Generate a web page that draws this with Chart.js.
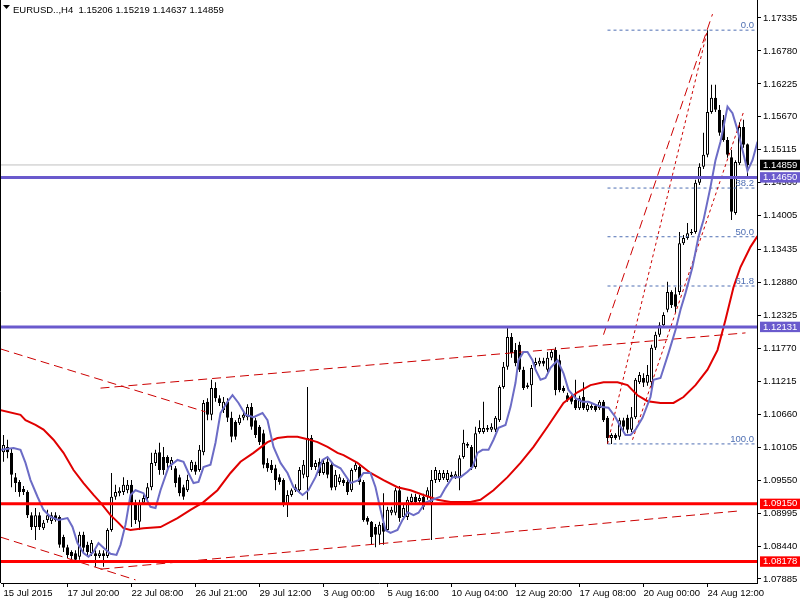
<!DOCTYPE html>
<html><head><meta charset="utf-8">
<script src="https://cdn.jsdelivr.net/npm/chart.js@4.4.1/dist/chart.umd.min.js"></script>
<style>html,body{margin:0;padding:0;background:#fff;}</style>
</head><body>
<canvas id="c" width="800" height="600"></canvas>
<script>
const titleText = 'EURUSD..,H4  1.15206 1.15219 1.14637 1.14859';
const dateLabels = ['15 Jul 2015','17 Jul 20:00','22 Jul 08:00','26 Jul 21:00','29 Jul 12:00','3 Aug 00:00','5 Aug 16:00','10 Aug 04:00','12 Aug 20:00','17 Aug 08:00','20 Aug 00:00','24 Aug 12:00'];
const barsPerLabel = 16;

const open = [1.1002,1.1011,1.1001,1.0960,1.0952,1.0940,1.0935,1.0896,1.0876,1.0896,1.0874,1.0888,1.0886,1.0896,1.0893,1.0859,1.0842,1.0834,1.0832,1.0826,
1.0863,1.0846,1.0832,1.0832,1.0827,1.0832,1.0827,1.0871,1.0927,1.0933,1.0935,1.0938,1.0947,1.0917,1.0885,1.0917,1.0925,1.0943,1.0984,1.1002,
1.0994,1.0994,1.0981,1.0975,1.0960,1.0943,1.0938,1.0972,1.0981,1.0972,1.1002,1.1087,1.1065,1.1110,1.1093,1.1073,1.1087,1.1060,1.1053,1.1051,
1.1060,1.1061,1.1078,1.1056,1.1045,1.1034,1.0984,1.0981,1.0975,1.0960,1.0955,1.0913,1.0930,1.0938,1.0938,1.0964,1.0960,1.1026,1.0977,1.0986,
1.0967,1.0986,1.0981,1.0943,1.0952,1.0955,1.0952,1.0938,1.0972,1.0977,1.0952,1.0891,1.0885,1.0876,1.0863,1.0883,1.0871,1.0900,1.0900,1.0938,
1.0893,1.0893,1.0918,1.0927,1.0920,1.0927,1.0927,1.0917,1.0955,1.0955,1.0958,1.0955,1.0964,1.0960,1.0960,1.0994,1.1016,1.1011,1.0977,1.1036,
1.1036,1.1043,1.1040,1.1040,1.1056,1.1112,1.1146,1.1196,1.1174,1.1183,1.1141,1.1112,1.1115,1.1149,1.1151,1.1156,1.1141,1.1161,1.1174,1.1157,
1.1110,1.1098,1.1095,1.1090,1.1076,1.1095,1.1073,1.1076,1.1080,1.1076,1.1087,1.1060,1.1026,1.1031,1.1028,1.1056,1.1060,1.1040,1.1061,1.1120,
1.1127,1.1119,1.1120,1.1178,1.1200,1.1216,1.1242,1.1272,1.1268,1.1272,1.1354,1.1363,1.1371,1.1373,1.1456,1.1483,1.1503,1.1575,1.1599,1.1579,
1.1562,1.1528,1.1499,1.1405,1.1489,1.1550,1.15206];
const high = [1.1031,1.1023,1.1009,1.0967,1.0955,1.0945,1.0938,1.0901,1.0908,1.0901,1.0888,1.0905,1.0901,1.0901,1.0896,1.0863,1.0846,1.0837,1.0837,1.0868,
1.0868,1.0851,1.0854,1.0837,1.0837,1.0837,1.0874,1.0967,1.0947,1.0943,1.0960,1.0955,1.0955,1.0922,1.0922,1.0930,1.0950,1.1001,1.1006,1.1018,
1.1011,1.0997,1.0994,1.0979,1.0964,1.0947,1.0964,1.0989,1.0986,1.1014,1.1090,1.1093,1.1124,1.1120,1.1098,1.1095,1.1093,1.1070,1.1056,1.1065,
1.1070,1.1083,1.1085,1.1060,1.1048,1.1040,1.0992,1.0989,1.0981,1.0965,1.0958,1.0938,1.0941,1.0948,1.0977,1.0989,1.1112,1.1031,1.0989,1.0992,
1.0989,1.0992,1.0984,1.0972,1.0965,1.0958,1.0955,1.0975,1.0986,1.0981,1.0955,1.0894,1.0886,1.0881,1.0885,1.0933,1.0910,1.0910,1.0942,1.0945,
1.0913,1.0927,1.0932,1.0932,1.0930,1.0932,1.0943,1.0972,1.0977,1.0972,1.0972,1.0972,1.0969,1.0970,1.0997,1.1040,1.1019,1.1014,1.1045,1.1056,
1.1087,1.1048,1.1051,1.1063,1.1115,1.1154,1.1213,1.1203,1.1186,1.1188,1.1146,1.1119,1.1149,1.1161,1.1161,1.1161,1.1171,1.1176,1.1179,1.1166,
1.1114,1.1102,1.1098,1.1124,1.1097,1.1120,1.1085,1.1083,1.1083,1.1090,1.1090,1.1063,1.1034,1.1034,1.1060,1.1060,1.1065,1.1078,1.1127,1.1137,
1.1135,1.1149,1.1183,1.1205,1.1221,1.1238,1.1289,1.1275,1.1280,1.1373,1.1368,1.1388,1.1378,1.1461,1.1489,1.1540,1.1713,1.1621,1.1621,1.1587,
1.1570,1.1533,1.1511,1.1494,1.1558,1.1562,1.15219];
const low = [1.0986,1.0992,1.0943,1.0935,1.0927,1.0930,1.0891,1.0871,1.0854,1.0871,1.0871,1.0883,1.0881,1.0885,1.0841,1.0834,1.0824,1.0822,1.0817,1.0821,
1.0834,1.0827,1.0827,1.0809,1.0824,1.0809,1.0824,1.0868,1.0922,1.0928,1.0930,1.0933,1.0876,1.0881,1.0871,1.0913,1.0922,1.0938,1.0979,1.0964,
1.0964,1.0975,1.0972,1.0943,1.0928,1.0922,1.0935,1.0969,1.0964,1.0969,1.0997,1.1056,1.1056,1.1087,1.1080,1.1068,1.1053,1.1019,1.1023,1.1048,
1.1056,1.1056,1.1040,1.1026,1.1014,1.0975,1.0969,1.0967,1.0938,1.0947,1.0910,1.0893,1.0927,1.0935,1.0933,1.0958,1.0922,1.0972,1.0972,1.0962,
1.0964,1.0958,1.0938,1.0938,1.0947,1.0945,1.0930,1.0935,1.0969,1.0947,1.0885,1.0880,1.0846,1.0842,1.0846,1.0846,1.0868,1.0896,1.0896,1.0885,
1.0888,1.0888,1.0913,1.0913,1.0916,1.0905,1.0922,1.0854,1.0950,1.0952,1.0955,1.0952,1.0955,1.0957,1.0938,1.0991,1.1009,1.0972,1.0974,1.1033,
1.1033,1.1036,1.1036,1.1036,1.1053,1.1109,1.1141,1.1161,1.1147,1.1137,1.1107,1.1109,1.1078,1.1144,1.1147,1.1147,1.1137,1.1157,1.1098,1.1103,
1.1102,1.1087,1.1083,1.1073,1.1073,1.1073,1.1070,1.1073,1.1070,1.1073,1.1053,1.1016,1.1016,1.1023,1.1023,1.1036,1.1034,1.1036,1.1058,1.1117,
1.1112,1.1114,1.1107,1.1174,1.1196,1.1213,1.1238,1.1245,1.1237,1.1267,1.1351,1.1360,1.1368,1.1370,1.1452,1.1479,1.1499,1.1572,1.1575,1.1535,
1.1525,1.1498,1.1393,1.1402,1.1486,1.1515,1.14637];
const close = [1.1014,1.1002,1.0964,1.0950,1.0935,1.0935,1.0896,1.0876,1.0896,1.0876,1.0883,1.0896,1.0896,1.0888,1.0846,1.0841,1.0829,1.0827,1.0821,1.0863,
1.0841,1.0834,1.0849,1.0827,1.0832,1.0827,1.0871,1.0927,1.0935,1.0937,1.0947,1.0947,1.0917,1.0888,1.0917,1.0925,1.0943,1.0984,1.1001,1.0972,
1.0972,1.0984,1.0989,1.0950,1.0933,1.0927,1.0955,1.0986,1.0969,1.1006,1.1085,1.1065,1.1110,1.1093,1.1085,1.1087,1.1060,1.1028,1.1028,1.1060,
1.1065,1.1078,1.1045,1.1031,1.1019,1.0981,1.0975,1.0972,1.0955,1.0952,1.0913,1.0930,1.0938,1.0943,1.0972,1.0981,1.1026,1.0977,1.0984,1.0967,
1.0984,1.0964,1.0942,1.0964,1.0960,1.0950,1.0935,1.0972,1.0981,1.0952,1.0888,1.0885,1.0859,1.0863,1.0880,1.0868,1.0905,1.0905,1.0938,1.0891,
1.0908,1.0922,1.0927,1.0918,1.0925,1.0910,1.0938,1.0955,1.0972,1.0967,1.0967,1.0967,1.0960,1.0965,1.0992,1.1018,1.1013,1.0977,1.1034,1.1043,
1.1043,1.1040,1.1045,1.1060,1.1112,1.1146,1.1196,1.1169,1.1152,1.1141,1.1110,1.1115,1.1144,1.1154,1.1156,1.1151,1.1161,1.1171,1.1107,1.1107,
1.1105,1.1090,1.1087,1.1076,1.1093,1.1076,1.1082,1.1080,1.1073,1.1087,1.1056,1.1026,1.1031,1.1026,1.1056,1.1045,1.1040,1.1061,1.1124,1.1132,
1.1119,1.1132,1.1178,1.1200,1.1216,1.1233,1.1272,1.1250,1.1247,1.1354,1.1363,1.1371,1.1373,1.1456,1.1483,1.1503,1.1575,1.1599,1.1579,1.1540,
1.1528,1.1503,1.1407,1.1491,1.1550,1.1520,1.14859];

// moving averages (bar position, price)
const maFastX = [-0.75,2.5,4.25,5.5,6.75,8.5,10,11.75,13.75,16,17.25,18.5,20,21.25,22.5,23.75,25,26.75,28.25,29.25,30.5,31.75,33,35,36.75,38,39.25,41.25,43.5,45,46.25,47.5,48.75,50,51.75,53,54.25,56,57.25,58.75,60.5,62.5,64.75,66,67.5,69.25,71,72.5,74.75,76.25,78,79.75,81,82.5,84.25,86.75,88.75,90,91.75,93,94.25,95.5,96.75,98.5,99.75,101,102.5,103.75,105.5,107.25,109.25,110.5,112.25,114.25,116,117.25,118.5,119.75,121.25,122.5,123.75,125.5,126.75,128,128.75,130,131,132.25,133,134.25,135.5,136.75,138.5,140,141.25,143,144.75,146.25,148,149.75,151.25,153,154.25,155.5,156.75,158,159.75,161.75,162.5,164.25,166.25,168,169.25,170.5,172.25,173.75,175,176.75,178,179.25,180.5,181,182.25,183.5,184.75,186,187.25,188.5];
const maFastY = [1.1006,1.1009,1.1006,1.0984,1.0955,1.0927,1.0905,1.0893,1.0888,1.0891,1.0876,1.0849,1.0832,1.0826,1.0834,1.0849,1.0841,1.0831,1.0829,1.0846,1.0880,1.0930,1.0938,1.0933,1.0910,1.0908,1.0938,1.0977,1.0989,1.0986,1.0967,1.0950,1.0952,1.0977,1.0981,1.1018,1.1068,1.1087,1.1098,1.1085,1.1065,1.1061,1.1068,1.1056,1.1011,1.0984,1.0967,1.0943,1.0930,1.0938,1.0960,1.0989,1.0994,1.0981,1.0975,1.0950,1.0955,1.0967,1.0967,1.0943,1.0905,1.0871,1.0866,1.0871,1.0888,1.0901,1.0896,1.0900,1.0917,1.0922,1.0927,1.0942,1.0960,1.0960,1.0969,1.0977,1.1001,1.1006,1.1006,1.1023,1.1043,1.1048,1.1078,1.1119,1.1157,1.1171,1.1171,1.1157,1.1141,1.1124,1.1127,1.1144,1.1157,1.1135,1.1107,1.1093,1.1087,1.1087,1.1082,1.1078,1.1077,1.1061,1.1045,1.1031,1.1031,1.1040,1.1060,1.1095,1.1124,1.1127,1.1169,1.1208,1.1242,1.1270,1.1314,1.1365,1.1393,1.1449,1.1494,1.1525,1.1567,1.1584,1.1573,1.1545,1.1511,1.1476,1.1494,1.1525];
const maSlowX = [-0.75,4.25,5.5,8,10,12.5,15,17.5,20,22.5,24.25,26.75,28.75,30,31.75,35,39.25,43.5,46.75,50,53.5,56.75,59.25,62.5,66,68.5,71,73.5,76,78.5,81,83.5,85,88.5,91.75,95,98.5,101.75,105,108.5,111.75,116.75,119.25,122.5,126,129.25,132.5,136,140,143.5,146.75,150,153.5,156,158.5,161,164.25,167.5,170,173,176,178.5,180.5,182.5,184.25,186.75,188.5];
const maSlowY = [1.1073,1.1065,1.1056,1.1048,1.1040,1.1023,1.1001,1.0972,1.0950,1.0930,1.0917,1.0896,1.0883,1.0874,1.0871,1.0874,1.0876,1.0891,1.0905,1.0918,1.0938,1.0967,1.0986,1.1001,1.1019,1.1026,1.1028,1.1028,1.1024,1.1019,1.1011,1.1001,1.0997,1.0984,1.0967,1.0955,1.0943,1.0938,1.0930,1.0922,1.0918,1.0918,1.0922,1.0938,1.0960,1.0984,1.1011,1.1045,1.1085,1.1103,1.1115,1.1120,1.1120,1.1115,1.1098,1.1088,1.1085,1.1085,1.1095,1.1115,1.1141,1.1174,1.1225,1.1280,1.1314,1.1348,1.1366];

// horizontal levels
const currentPrice = 1.14859;
const blueLevels = [1.14650, 1.12131];
const redLevels = [1.09150, 1.08178];
const axisTicks = [1.17335,1.16780,1.16225,1.15670,1.15115,1.14560,1.14005,1.13435,1.12880,1.12325,1.11770,1.11215,1.10660,1.10105,1.09550,1.08995,1.08440,1.07885];

// trend lines: [bar, price] pairs
const trendDown = [[-0.75,1.1176],[50.5,1.1070]];
const channelTop = [[24.25,1.1110],[185.5,1.1203]];
const channelBottom = [[24.25,1.0805],[183.75,1.0903]];
const trendLow = [[-0.75,1.0859],[33,1.0787]];
const rallyDash = [[150,1.1200],[177.25,1.1740]];
const fiboDiag = [[151,1.1016],[176,1.1713]];
const rallyDot = [[157.25,1.1023],[185,1.1575]];

// Fibonacci retracement levels
const fibLabels = ['0.0','38.2','50.0','61.8','100.0'];
const fibPrices = [1.1713,1.1447,1.1365,1.1282,1.1016];
const fibStart = 151;

const X_MIN = -0.625, X_MAX = 188.375;
const Y_MIN = 1.07817, Y_MAX = 1.17638;
const FONT = '"Liberation Sans", Arial, sans-serif';
const FS = 9.5;
const SLATE = '#6a5acd';
const FIB_COLOR = '#4f6fb3';
const markerVals = [currentPrice, ...blueLevels, ...redLevels];
const markerBg = v => v === currentPrice ? '#000000' : (blueLevels.includes(v) ? SLATE : (redLevels.includes(v) ? '#ff0000' : null));

const idx = open.map((_, i) => i);
const wicks = idx.map(i => ({x: i, y: [low[i], high[i]]}));
const upBodies = idx.filter(i => close[i] >= open[i]).map(i => ({x: i, y: [open[i], close[i]]}));
const downBodies = idx.filter(i => close[i] < open[i]).map(i => ({x: i, y: [close[i], open[i]]}));

function lineDs(pts, color, width, dash, order) {
  return {type: 'line', data: pts.map(p => ({x: p[0], y: p[1]})), borderColor: color, borderWidth: width,
    borderDash: dash || [], pointRadius: 0, pointHoverRadius: 0, fill: false, tension: 0, order: order};
}
const hline = (v, color, width, order) => lineDs([[X_MIN, v], [X_MAX, v]], color, width, null, order);

const datasets = [
  {type: 'bar', data: wicks, backgroundColor: '#000', borderWidth: 0, barThickness: 1, grouped: false, inflateAmount: 0, order: 6},
  {type: 'bar', data: upBodies, backgroundColor: '#fff', borderColor: '#000', borderWidth: 1, borderSkipped: false, barThickness: 3, grouped: false, inflateAmount: 0, minBarLength: 1, order: 5},
  {type: 'bar', data: downBodies, backgroundColor: '#000', borderColor: '#000', borderWidth: 1, borderSkipped: false, barThickness: 3, grouped: false, inflateAmount: 0, minBarLength: 1, order: 5},
  hline(currentPrice, '#c0c0c0', 1, 7),
  lineDs(maFastX.map((x, k) => [x, maFastY[k]]), '#6c6cc6', 2, null, 2),
  lineDs(maSlowX.map((x, k) => [x, maSlowY[k]]), '#e00000', 2, null, 2),
  lineDs(trendDown, '#cc0000', 1, [9, 5], 3),
  lineDs(channelTop, '#cc0000', 1, [9, 5], 3),
  lineDs(channelBottom, '#cc0000', 1, [9, 5], 3),
  lineDs(trendLow, '#cc0000', 1, [9, 5], 3),
  lineDs(rallyDash, '#cc0000', 1, [9, 5], 3),
  lineDs(fiboDiag, '#cc0000', 1, [3, 3], 3),
  lineDs(rallyDot, '#cc0000', 1, [3, 3], 3),
  ...fibPrices.map(p => lineDs([[fibStart, p], [X_MAX, p]], FIB_COLOR, 1, [3, 3], 4)),
  ...blueLevels.map(v => hline(v, SLATE, 3, 1)),
  ...redLevels.map(v => hline(v, '#ff0000', 3, 1))
];

const overlay = {
  id: 'overlay',
  afterDraw(chart) {
    const {ctx, chartArea, scales} = chart;
    const y = scales.y;
    ctx.save();
    ctx.strokeStyle = '#000'; ctx.lineWidth = 1;
    ctx.beginPath(); ctx.moveTo(0.5, 0); ctx.lineTo(0.5, chartArea.bottom); ctx.stroke();
    ctx.font = FS + 'px ' + FONT;
    ctx.fillStyle = FIB_COLOR; ctx.textAlign = 'right'; ctx.textBaseline = 'alphabetic';
    fibPrices.forEach((p, k) => ctx.fillText(fibLabels[k], chartArea.right - 3, y.getPixelForValue(p) - 2));
    ctx.fillStyle = '#000';
    ctx.beginPath(); ctx.moveTo(3, 5); ctx.lineTo(10, 5); ctx.lineTo(6.5, 9); ctx.closePath(); ctx.fill();
    ctx.textAlign = 'left';
    ctx.fillText(titleText, 13, 13);
    ctx.restore();
  }
};

const tickFont = {family: FONT, size: FS, lineHeight: 1.1};

new Chart(document.getElementById('c'), {
  type: 'bar',
  data: {datasets},
  options: {
    responsive: false, maintainAspectRatio: false, animation: false, devicePixelRatio: 1, events: [],
    layout: {padding: {left: 1, top: 0, right: 0, bottom: 0}},
    plugins: {legend: {display: false}, tooltip: {enabled: false}, title: {display: false}},
    scales: {
      x: {
        type: 'linear', position: 'bottom', min: X_MIN, max: X_MAX, offset: false,
        afterBuildTicks: s => { s.ticks = dateLabels.map((_, k) => ({value: k * barsPerLabel})); },
        afterFit: s => { s.height = 17; s.paddingLeft = 0; s.paddingRight = 0; },
        grid: {drawOnChartArea: false, drawTicks: true, tickLength: 4, tickColor: '#000', offset: false},
        border: {display: true, color: '#000', width: 1},
        ticks: {autoSkip: false, maxRotation: 0, minRotation: 0, align: 'start', padding: 1, font: tickFont, color: '#000',
          callback: v => dateLabels[Math.round(v / barsPerLabel)]}
      },
      y: {
        type: 'linear', position: 'right', min: Y_MIN, max: Y_MAX, beginAtZero: false,
        afterBuildTicks: s => { s.ticks = [...axisTicks, ...markerVals].map(v => ({value: v})); },
        afterFit: s => { s.width = 43; s.paddingTop = 0; s.paddingBottom = 0; },
        grid: {drawOnChartArea: false, drawTicks: true, tickLength: 4,
          tickColor: c => (c.tick && markerBg(c.tick.value)) ? 'rgba(0,0,0,0)' : '#000'},
        border: {display: true, color: '#000', width: 1},
        ticks: {autoSkip: false, padding: 2, font: tickFont,
          color: c => (c.tick && markerBg(c.tick.value)) ? '#fff' : '#000',
          showLabelBackdrop: c => !!(c.tick && markerBg(c.tick.value)),
          backdropColor: c => (c.tick && markerBg(c.tick.value)) || 'rgba(0,0,0,0)',
          backdropPadding: {top: 0, bottom: 0, left: 3, right: 6},
          callback: v => v.toFixed(5)}
      }
    }
  },
  plugins: [overlay]
});
</script>
</body></html>
